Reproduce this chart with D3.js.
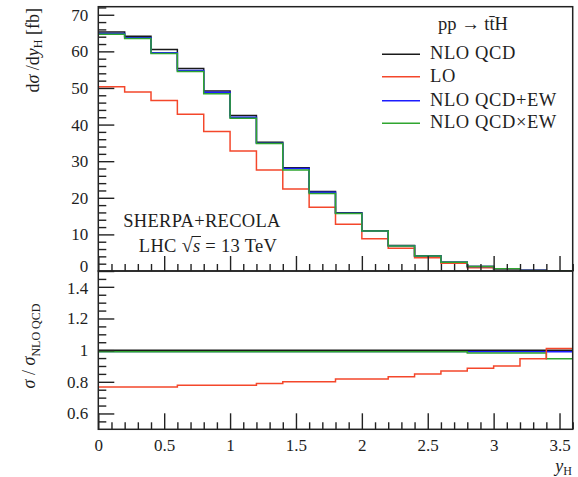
<!DOCTYPE html>
<html><head><meta charset="utf-8">
<script src="https://cdn.jsdelivr.net/npm/d3@7"></script>
<style>
html,body{margin:0;padding:0;background:#fff;}
svg text{font-family:"Liberation Serif","DejaVu Serif",serif;fill:#1e1e1e;}
</style></head>
<body><svg id="c" width="578" height="477"></svg>
<script>
// ---- data ----
const binEdges = [0,0.2,0.4,0.6,0.8,1.0,1.2,1.4,1.6,1.8,2.0,2.2,2.4,2.6,2.8,3.0,3.2,3.4,3.6];
const nloQCD   = [65.3,64.1,60.5,55.3,49.2,42.5,35.2,28.2,21.7,15.9,11.0,7.0,4.2,2.4,1.2,0.6,0.2,0.05];
const lo       = [50.3,48.9,46.6,42.8,38.1,32.8,27.6,22.4,17.4,12.8,8.8,6.2,3.6,2.1,0.9,0.5,0.15,0.05];
const nloAddEW = [64.9,63.7,59.6,54.8,48.8,42.0,34.9,28.0,21.5,15.8,10.9,6.9,4.1,2.4,1.2,0.6,0.2,0.05];
const nloMulEW = [64.7,63.5,59.4,54.5,48.4,41.7,34.8,27.6,21.2,15.7,10.9,6.8,4.1,2.4,1.2,0.6,0.15,0.05];
const ratioNLO = [1,1,1,1,1,1,1,1,1,1,1,1,1,1,1,1,1,1];
const ratioLO  = [0.767,0.767,0.767,0.778,0.778,0.778,0.789,0.80,0.80,0.817,0.817,0.832,0.849,0.868,0.886,0.90,0.945,1.01];
const ratioAdd = [0.992,0.992,0.992,0.992,0.992,0.992,0.992,0.992,0.992,0.992,0.992,0.992,0.992,0.992,0.99,0.99,0.99,0.99];
const ratioMul = [0.99,0.99,0.99,0.99,0.99,0.99,0.99,0.99,0.99,0.99,0.99,0.99,0.99,0.99,0.982,0.982,0.982,0.945];
const xMajorTicks = [0,0.5,1,1.5,2,2.5,3,3.5];
const yTopTicks = [0,10,20,30,40,50,60,70];
const yBotTicks = [0.6,0.8,1,1.2,1.4];
const seriesNames = ["NLO QCD","LO","NLO QCD+EW","NLO QCD\u00d7EW"];
const seriesColors = ["#1a1a1a","#f4472b","#1c1cff","#2fa52f"];

// ---- layout ----
const L = 98.3, R = 572.7, T = 6.7, M = 271, B = 429.3;
const svg = d3.select("#c");
const x = d3.scaleLinear().domain([0,3.6]).range([L,R]);
const yT = d3.scaleLinear().domain([0,72.2]).range([M,T]);
const yB = d3.scaleLinear().domain([0.5,1.5]).range([B,M]);

const defs = svg.append("defs");
defs.append("clipPath").attr("id","cpT").append("rect").attr("x",L).attr("y",T).attr("width",R-L).attr("height",M-T);
defs.append("clipPath").attr("id","cpB").append("rect").attr("x",L).attr("y",M).attr("width",R-L).attr("height",B-M);

function stepPts(vals){ return vals.flatMap((v,i)=>[[binEdges[i],v],[binEdges[i+1],v]]); }

// series (draw order per panel)
const lineT = d3.line().x(d=>x(d[0])).y(d=>yT(d[1]));
const lineB = d3.line().x(d=>x(d[0])).y(d=>yB(d[1]));
const gT = svg.append("g").attr("clip-path","url(#cpT)");
const gB = svg.append("g").attr("clip-path","url(#cpB)");
const topSeries = [nloQCD, lo, nloAddEW, nloMulEW];
[0,1,2,3].forEach(i=>gT.append("path").attr("d",lineT(stepPts(topSeries[i]))).attr("fill","none").attr("stroke",seriesColors[i]).attr("stroke-width",1.5));
const botSeries = [ratioNLO, ratioLO, ratioAdd, ratioMul];
[2,3,0,1].forEach(i=>gB.append("path").attr("d",lineB(stepPts(botSeries[i]))).attr("fill","none").attr("stroke",seriesColors[i]).attr("stroke-width",1.5));

// axes
const tickCol = "#222";
function styleAxis(g){ g.select(".domain").remove(); g.selectAll("line").attr("stroke",tickCol).attr("stroke-width",1.4); g.selectAll("text").attr("font-size",17).attr("fill","#1e1e1e").attr("font-family","Liberation Serif, serif"); }
const fmt = d3.format("~g");
// top y
svg.append("g").attr("transform",`translate(${L},0)`).call(d3.axisLeft(yT).tickValues(yTopTicks).tickSize(-16).tickPadding(10).tickFormat(fmt)).call(styleAxis)
  .selectAll("text").filter(d=>d===0).attr("dy","0.05em");
svg.append("g").attr("transform",`translate(${L},0)`).call(d3.axisLeft(yT).tickValues(d3.range(0,73,2).filter(v=>v%10)).tickSize(-8).tickFormat("")).call(styleAxis);
// bottom y
svg.append("g").attr("transform",`translate(${L},0)`).call(d3.axisLeft(yB).tickValues(yBotTicks).tickSize(-16).tickPadding(10).tickFormat(fmt)).call(styleAxis)
  .selectAll("text").filter(d=>d===1.4).attr("dy","0.42em");
svg.append("g").attr("transform",`translate(${L},0)`).call(d3.axisLeft(yB).tickValues(d3.range(11,30).map(v=>v*0.05).filter(v=>Math.abs(v*5-Math.round(v*5))>1e-6)).tickSize(-8).tickFormat("")).call(styleAxis);
// x ticks on both panels
const xMinor = d3.range(0,37).map(v=>v/10).filter(v=>Math.abs(v*2-Math.round(v*2))>1e-6);
svg.append("g").attr("transform",`translate(0,${M})`).call(d3.axisBottom(x).tickValues(xMajorTicks).tickSize(-15).tickFormat("")).call(styleAxis);
svg.append("g").attr("transform",`translate(0,${M})`).call(d3.axisBottom(x).tickValues(xMinor).tickSize(-7).tickFormat("")).call(styleAxis);
svg.append("g").attr("transform",`translate(0,${B})`).call(d3.axisBottom(x).tickValues(xMajorTicks).tickSize(-16).tickPadding(10).tickFormat(fmt)).call(styleAxis);
svg.append("g").attr("transform",`translate(0,${B})`).call(d3.axisBottom(x).tickValues(xMinor).tickSize(-7).tickFormat("")).call(styleAxis);

// frames
svg.append("rect").attr("x",L).attr("y",T).attr("width",R-L).attr("height",M-T).attr("fill","none").attr("stroke","#222").attr("stroke-width",1.5);
svg.append("rect").attr("x",L).attr("y",M).attr("width",R-L).attr("height",B-M).attr("fill","none").attr("stroke","#222").attr("stroke-width",1.5);

// axis labels
const yl = svg.append("text").attr("transform","translate(39,8) rotate(-90)").attr("text-anchor","end").attr("font-size",18);
yl.append("tspan").text("d");
yl.append("tspan").attr("font-style","italic").text("σ");
yl.append("tspan").text(" /d");
yl.append("tspan").attr("font-style","italic").text("y");
yl.append("tspan").attr("font-size",12).attr("dy",3).text("H");
yl.append("tspan").attr("dy",-3).text(" [fb]");

const yl2 = svg.append("text").attr("transform","translate(35,346) rotate(-90)").attr("text-anchor","middle").attr("font-size",18);
yl2.append("tspan").attr("font-style","italic").text("σ");
yl2.append("tspan").text(" / ");
yl2.append("tspan").attr("font-style","italic").text("σ");
yl2.append("tspan").attr("font-size",12).attr("dy",5).text("NLO QCD");

const xl = svg.append("text").attr("x",572).attr("y",472).attr("text-anchor","end").attr("font-size",18);
xl.append("tspan").attr("font-style","italic").text("y");
xl.append("tspan").attr("font-size",12).attr("dy",3).text("H");

// annotations
svg.append("text").attr("x",202).attr("y",227).attr("text-anchor","middle").attr("font-size",18.5).attr("letter-spacing",0.3).text("SHERPA+RECOLA");
const lhc = svg.append("text").attr("x",208).attr("y",252).attr("text-anchor","middle").attr("font-size",18.5).attr("letter-spacing",0.3);
lhc.append("tspan").text("LHC ");
lhc.append("tspan").attr("font-size",20).text("\u221A");
const sSpan = lhc.append("tspan").attr("font-style","italic").text("s");
lhc.append("tspan").text(" = 13 TeV");
// overline of the square root
(function(){
  const full = lhc.node().textContent;
  const idx = full.indexOf("\u221A");
  const e1 = lhc.node().getExtentOfChar(idx);
  const e2 = lhc.node().getExtentOfChar(idx+1);
  const yTop = e1.y + 2.5;
  svg.append("line").attr("x1",e1.x+e1.width-1.2).attr("x2",e2.x+e2.width+0.5).attr("y1",yTop).attr("y2",yTop).attr("stroke","#1e1e1e").attr("stroke-width",1);
})();

// legend
svg.append("text").attr("x",473).attr("y",30).attr("text-anchor","middle").attr("font-size",18.5).text("pp \u2192 tt\u0304H");
const legY = [54.3,76.7,100.7,123.3];
seriesNames.forEach((n,i)=>{
  svg.append("line").attr("x1",382).attr("x2",420).attr("y1",legY[i]).attr("y2",legY[i]).attr("stroke",seriesColors[i]).attr("stroke-width",1.5);
  svg.append("text").attr("x",430).attr("y",legY[i]+5).attr("font-size",18.5).attr("letter-spacing",0.6).text(n);
});
</script></body></html>
